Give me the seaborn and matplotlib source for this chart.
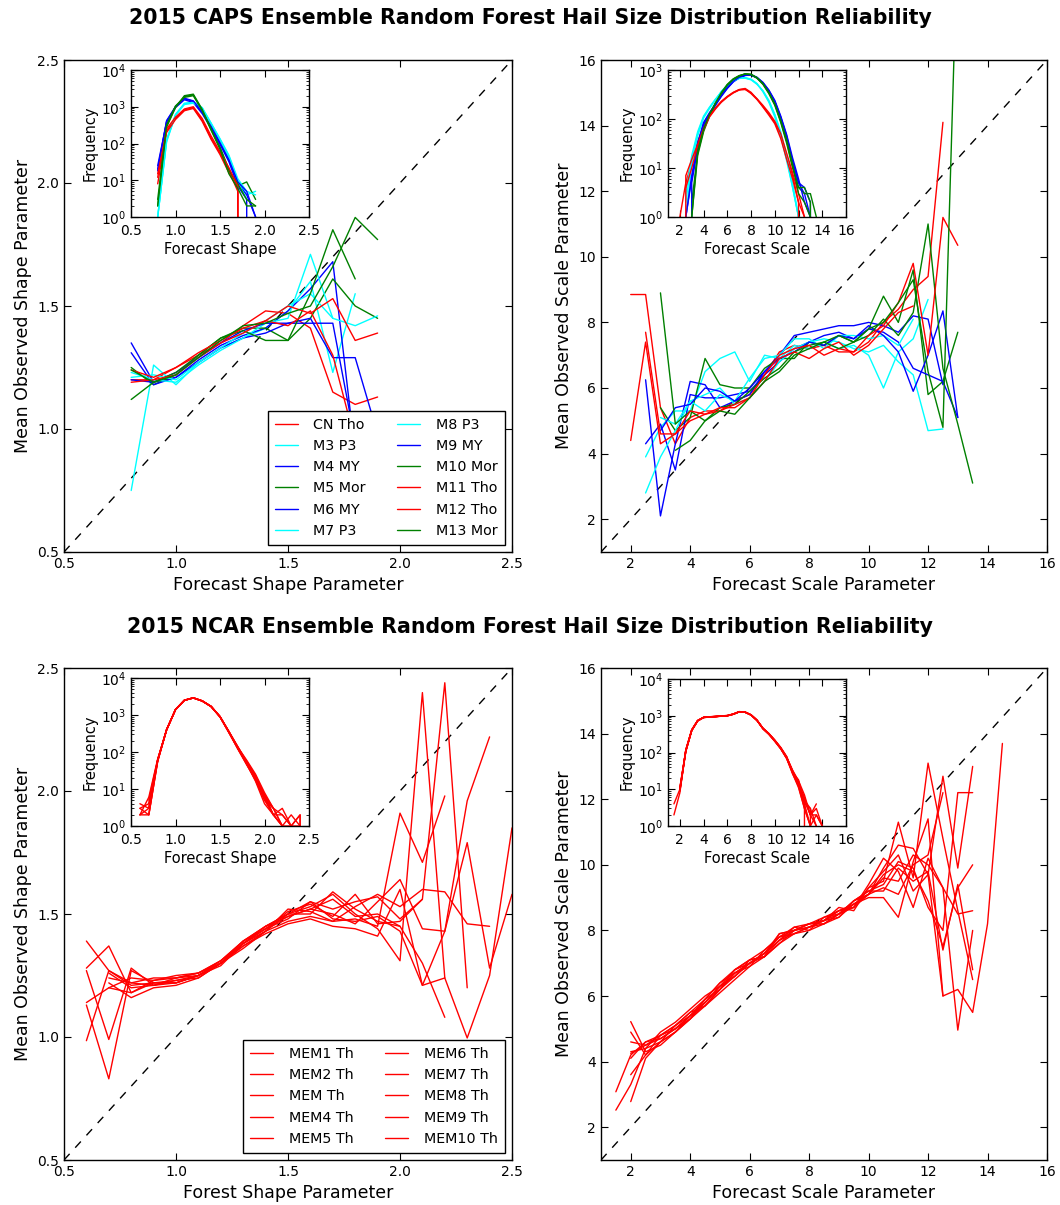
import numpy as np
import pandas as pd
import matplotlib
matplotlib.use("Agg")
import matplotlib.pyplot as plt
from matplotlib.lines import Line2D
import seaborn as sns

nan = np.nan

# ---------------- CAPS ensemble ----------------
CAPS_MEMBERS = ["CN Tho", "M3 P3", "M4 MY", "M5 Mor", "M6 MY", "M7 P3",
                "M8 P3", "M9 MY", "M10 Mor", "M11 Tho", "M12 Tho", "M13 Mor"]
CAPS_COLORS = ["red", "cyan", "blue", "green", "blue", "cyan",
               "cyan", "blue", "green", "red", "red", "green"]

CAPS_SHAPE_X = [0.8, 0.9, 1.0, 1.1, 1.2, 1.3, 1.4, 1.5, 1.6, 1.7, 1.8, 1.9]
caps_shape_obs = {
    "CN Tho":  [1.20, 1.20, 1.25, 1.30, 1.35, 1.42, 1.48, 1.47, 1.41, 1.15, 1.10, 1.13],
    "M3 P3":   [0.75, 1.26, 1.18, 1.27, 1.33, 1.37, 1.41, 1.48, 1.60, 1.23, 1.55, nan],
    "M4 MY":   [1.35, 1.19, 1.21, 1.28, 1.34, 1.38, 1.41, 1.48, 1.57, 1.68, 0.90, nan],
    "M5 Mor":  [1.25, 1.18, 1.22, 1.30, 1.37, 1.41, 1.41, 1.36, 1.45, 1.61, 1.50, 1.45],
    "M6 MY":   [1.31, 1.18, 1.21, 1.27, 1.33, 1.37, 1.39, 1.43, 1.43, 1.43, 0.95, nan],
    "M7 P3":   [1.23, 1.20, 1.19, 1.26, 1.32, 1.37, 1.43, 1.45, 1.71, 1.45, 1.42, 1.46],
    "M8 P3":   [1.21, 1.22, 1.20, 1.27, 1.33, 1.39, 1.44, 1.50, 1.55, 1.45, nan, nan],
    "M9 MY":   [1.20, 1.19, 1.23, 1.29, 1.35, 1.40, 1.43, 1.43, 1.45, 1.29, 1.29, 0.98],
    "M10 Mor": [1.12, 1.19, 1.23, 1.30, 1.37, 1.40, 1.36, 1.36, 1.55, 1.81, 1.61, nan],
    "M11 Tho": [1.24, 1.21, 1.25, 1.31, 1.36, 1.41, 1.44, 1.50, 1.47, 1.53, 1.36, 1.39],
    "M12 Tho": [1.19, 1.20, 1.22, 1.29, 1.35, 1.39, 1.44, 1.42, 1.48, 1.30, 0.95, nan],
    "M13 Mor": [1.24, 1.19, 1.22, 1.29, 1.36, 1.42, 1.43, 1.47, 1.50, 1.66, 1.86, 1.77],
}
caps_shape_freq = {
    "CN Tho":  [8, 220, 480, 820, 950, 430, 140, 55, 18, 5, 0, nan],
    "M3 P3":   [1, 110, 600, 1200, 1350, 950, 360, 130, 45, 10, 4, 5],
    "M4 MY":   [20, 420, 1000, 1650, 1400, 700, 280, 100, 35, 8, 4, 1],
    "M5 Mor":  [2, 300, 1000, 1900, 2100, 800, 240, 80, 20, 7, 9, 3],
    "M6 MY":   [25, 380, 950, 1550, 1300, 650, 260, 95, 32, 7, 3, 0],
    "M7 P3":   [1, 130, 620, 1250, 1300, 900, 340, 125, 42, 9, 3, nan],
    "M8 P3":   [1, 120, 580, 1150, 1250, 920, 350, 135, 48, 11, 5, 4],
    "M9 MY":   [18, 400, 1000, 1700, 1450, 720, 290, 105, 36, 9, 5, 1],
    "M10 Mor": [2, 280, 950, 2000, 2200, 850, 250, 75, 18, 8, 3, 2],
    "M11 Tho": [12, 250, 520, 870, 1000, 480, 160, 60, 22, 7, 0, nan],
    "M12 Tho": [15, 200, 450, 780, 900, 400, 130, 50, 16, 6, 0, nan],
    "M13 Mor": [3, 320, 1050, 1800, 2000, 780, 230, 70, 15, 6, 2, 2],
}

CAPS_SCALE_X = [2.0, 2.5, 3.0, 3.5, 4.0, 4.5, 5.0, 5.5, 6.0, 6.5, 7.0, 7.5,
                8.0, 8.5, 9.0, 9.5, 10.0, 10.5, 11.0, 11.5, 12.0, 12.5, 13.0, 13.5]
caps_scale_obs = {
    "CN Tho":  [8.85, 8.85, 5.4, 4.3, 5.1, 5.3, 5.3, 5.6, 5.8, 6.4, 7.1, 7.3, 7.2, 7.3, 7.1, 7.1, 7.4, 8.0, 8.4, 9.0, 9.4, 14.1, nan, nan],
    "M3 P3":   [nan, 3.9, 4.8, 5.3, 5.3, 6.5, 6.9, 7.1, 6.2, 7.0, 6.9, 7.3, 7.2, 7.4, 7.2, 7.3, 7.0, 6.0, 7.1, 7.5, 8.7, nan, nan, nan],
    "M4 MY":   [nan, 6.25, 2.1, 4.3, 6.2, 6.1, 5.4, 5.6, 5.8, 6.5, 7.0, 7.6, 7.7, 7.8, 7.9, 7.9, 8.0, 7.9, 7.7, 8.2, 8.1, 6.1, nan, nan],
    "M5 Mor":  [nan, nan, 5.4, 4.7, 5.1, 6.9, 6.1, 6.0, 6.0, 6.6, 6.9, 6.9, 7.4, 7.3, 7.6, 7.4, 7.8, 8.8, 8.0, 9.6, 5.8, 6.2, 7.7, nan],
    "M6 MY":   [nan, 4.3, 4.9, 3.5, 5.8, 5.7, 5.7, 5.8, 5.9, 6.4, 6.8, 7.2, 7.4, 7.6, 7.7, 7.5, 7.8, 7.7, 7.4, 6.6, 6.4, 6.2, 5.1, nan],
    "M7 P3":   [nan, 2.8, 3.9, 4.7, 5.6, 5.8, 6.0, 5.5, 5.7, 6.2, 6.8, 7.2, 7.4, 7.5, 7.4, 7.2, 7.1, 7.3, 6.8, 6.4, 4.7, 4.75, nan, nan],
    "M8 P3":   [nan, nan, 5.1, 4.9, 5.6, 5.3, 5.8, 5.6, 6.3, 6.9, 7.0, 7.5, 7.5, 7.2, 7.6, 7.6, 7.5, 7.6, 7.3, 8.1, nan, nan, nan, nan],
    "M9 MY":   [nan, nan, 4.7, 5.4, 5.5, 6.0, 5.9, 5.6, 6.0, 6.5, 6.9, 7.1, 7.4, 7.3, 7.6, 7.5, 7.9, 7.6, 7.1, 5.9, 7.0, 8.35, 5.1, nan],
    "M10 Mor": [nan, nan, 8.9, 4.9, 5.3, 5.0, 5.4, 5.5, 5.9, 6.3, 6.6, 7.1, 7.3, 7.4, 7.6, 7.4, 7.6, 8.1, 7.6, 8.3, 11.0, 6.6, 4.9, 3.1],
    "M11 Tho": [4.4, 7.4, 4.3, 4.6, 5.3, 5.2, 5.3, 5.5, 5.7, 6.4, 7.0, 7.2, 7.3, 7.0, 7.2, 7.1, 7.6, 7.9, 8.6, 9.8, 7.0, 11.2, 10.35, nan],
    "M12 Tho": [nan, 7.7, 4.6, 4.6, 5.0, 5.2, 5.4, 5.4, 5.7, 6.2, 6.9, 7.1, 6.9, 7.2, 7.4, 7.0, 7.3, 7.8, 8.3, 8.5, nan, nan, nan, nan],
    "M13 Mor": [nan, nan, nan, 4.1, 4.4, 5.0, 5.3, 5.2, 5.7, 6.2, 6.5, 7.0, 7.2, 7.4, 7.2, 7.4, 7.8, 8.0, 8.6, 9.3, 6.5, 4.8, 20.0, nan],
}
caps_scale_freq = {
    "CN Tho":  [1, 5, 13, 35, 70, 120, 170, 230, 290, 350, 400, 410, 330, 250, 180, 125, 85, 45, 18, 7, 2, 1, 0, nan],
    "M3 P3":   [nan, 2, 15, 50, 110, 170, 250, 360, 480, 600, 680, 690, 640, 520, 370, 230, 120, 50, 16, 4, 1, 0, nan, nan],
    "M4 MY":   [nan, 1, 6, 30, 80, 130, 200, 300, 430, 580, 700, 780, 790, 700, 550, 380, 230, 110, 45, 14, 5, 3, 1, 0],
    "M5 Mor":  [nan, nan, 2, 20, 60, 120, 200, 340, 500, 650, 760, 820, 810, 690, 520, 340, 200, 90, 35, 11, 4, 3, 3, 1],
    "M6 MY":   [nan, 0, 5, 25, 75, 125, 190, 290, 420, 570, 690, 770, 800, 710, 560, 390, 240, 115, 48, 16, 6, 2, 1, 0],
    "M7 P3":   [nan, 3, 18, 55, 115, 175, 255, 350, 470, 590, 670, 700, 650, 530, 360, 220, 110, 45, 14, 4, 1, 0, nan, nan],
    "M8 P3":   [nan, 1, 12, 45, 105, 165, 245, 370, 490, 610, 690, 680, 630, 510, 380, 240, 125, 55, 18, 5, 1, 0, nan, nan],
    "M9 MY":   [nan, 1, 7, 32, 85, 135, 205, 310, 440, 590, 710, 790, 780, 690, 540, 370, 225, 105, 42, 13, 5, 4, 2, 0],
    "M10 Mor": [nan, nan, 1, 18, 55, 115, 210, 350, 510, 660, 770, 830, 800, 680, 510, 330, 190, 85, 32, 10, 4, 4, 2, 0],
    "M11 Tho": [0, 7, 15, 30, 65, 115, 165, 220, 280, 340, 390, 400, 340, 260, 190, 135, 90, 50, 20, 8, 3, 1, 0, nan],
    "M12 Tho": [nan, 4, 10, 28, 60, 110, 160, 225, 285, 345, 395, 420, 350, 255, 175, 120, 80, 40, 15, 6, 2, 0, nan, nan],
    "M13 Mor": [nan, nan, 1, 22, 62, 125, 215, 330, 490, 640, 750, 840, 820, 700, 530, 350, 205, 95, 38, 12, 3, 2, 1, 0],
}

# ---------------- NCAR ensemble ----------------
NCAR_MEMBERS = ["MEM1 Th", "MEM2 Th", "MEM Th", "MEM4 Th", "MEM5 Th",
                "MEM6 Th", "MEM7 Th", "MEM8 Th", "MEM9 Th", "MEM10 Th"]
NCAR_COLORS = ["red"] * 10

NCAR_SHAPE_X = [0.6, 0.7, 0.8, 0.9, 1.0, 1.1, 1.2, 1.3, 1.4, 1.5,
                1.6, 1.7, 1.8, 1.9, 2.0, 2.1, 2.2, 2.3, 2.4, 2.5]
ncar_shape_obs = {
    "MEM1 Th":  [1.39, 1.27, 1.22, 1.21, 1.22, 1.25, 1.30, 1.39, 1.45, 1.50, 1.53, 1.58, 1.50, 1.44, 1.31, 2.40, 1.24, nan, nan, nan],
    "MEM2 Th":  [1.28, 1.37, 1.18, 1.23, 1.24, 1.26, 1.31, 1.38, 1.44, 1.48, 1.55, 1.52, 1.55, 1.57, 1.48, 1.56, 2.44, 1.20, nan, nan],
    "MEM Th":   [0.985, 1.27, 1.21, 1.22, 1.22, 1.25, 1.30, 1.37, 1.43, 1.52, 1.51, 1.47, 1.48, 1.45, 1.91, 1.71, 1.98, nan, nan, nan],
    "MEM4 Th":  [1.27, 0.99, 1.28, 1.21, 1.24, 1.25, 1.29, 1.38, 1.44, 1.49, 1.52, 1.50, 1.46, 1.55, 1.64, 1.44, 1.43, 1.96, 2.22, nan],
    "MEM5 Th":  [1.14, 1.20, 1.24, 1.23, 1.25, 1.26, 1.31, 1.39, 1.45, 1.50, 1.50, 1.59, 1.52, 1.47, 1.45, 1.30, 1.08, nan, nan, nan],
    "MEM6 Th":  [1.13, 0.83, 1.27, 1.22, 1.23, 1.24, 1.30, 1.38, 1.43, 1.47, 1.49, 1.47, 1.53, 1.58, 1.53, 1.60, 1.59, 1.46, 1.45, nan],
    "MEM7 Th":  [nan, 1.22, 1.16, 1.20, 1.21, 1.24, 1.30, 1.37, 1.42, 1.46, 1.48, 1.45, 1.44, 1.41, 1.60, 1.21, 1.24, 0.996, 1.25, 1.85],
    "MEM8 Th":  [nan, 1.20, 1.18, 1.22, 1.22, 1.25, 1.30, 1.36, 1.43, 1.50, 1.55, 1.48, 1.47, 1.49, 1.43, 1.21, 1.43, 1.79, 1.28, 1.58],
    "MEM9 Th":  [nan, 1.26, 1.20, 1.21, 1.23, 1.25, 1.31, 1.39, 1.44, 1.51, 1.54, 1.49, 1.58, 1.46, 1.47, 1.56, nan, nan, nan, nan],
    "MEM10 Th": [nan, 1.24, 1.22, 1.24, 1.24, 1.26, 1.30, 1.38, 1.45, 1.49, 1.52, 1.56, 1.49, 1.50, 1.45, nan, nan, nan, nan, nan],
}
ncar_shape_freq = {
    "MEM1 Th":  [2, 2, 55, 400, 1400, 2500, 2900, 2400, 1700, 900, 340, 120, 45, 18, 5, 2, 1, 0, nan, nan],
    "MEM2 Th":  [3, 4, 60, 410, 1380, 2480, 2880, 2380, 1680, 880, 330, 125, 55, 22, 7, 3, 2, 1, 2, 0],
    "MEM Th":   [2, 6, 65, 390, 1420, 2520, 2920, 2420, 1720, 910, 360, 140, 52, 19, 6, 2, 3, 1, nan, nan],
    "MEM4 Th":  [3, 2, 58, 405, 1410, 2490, 2890, 2410, 1690, 890, 345, 135, 60, 25, 8, 3, 1, 1, 1, 0],
    "MEM5 Th":  [2, 3, 62, 395, 1390, 2510, 2910, 2390, 1710, 905, 355, 128, 48, 16, 4, 2, 1, 0, nan, nan],
    "MEM6 Th":  [4, 3, 57, 400, 1400, 2500, 2900, 2400, 1700, 900, 350, 132, 50, 20, 6, 2, 2, 1, 2, 0],
    "MEM7 Th":  [nan, 5, 63, 402, 1405, 2505, 2905, 2405, 1705, 895, 348, 126, 46, 17, 5, 3, 1, 0, nan, nan],
    "MEM8 Th":  [nan, 4, 59, 398, 1395, 2495, 2895, 2395, 1695, 905, 352, 138, 56, 23, 7, 2, 1, 2, 1, 0],
    "MEM9 Th":  [nan, 3, 61, 404, 1404, 2504, 2904, 2404, 1704, 898, 358, 130, 53, 21, 6, 3, nan, nan, nan, nan],
    "MEM10 Th": [nan, 2, 60, 396, 1396, 2496, 2896, 2396, 1696, 902, 342, 124, 49, 18, 6, nan, nan, nan, nan, nan],
}

NCAR_SCALE_X = [1.5, 2.0, 2.5, 3.0, 3.5, 4.0, 4.5, 5.0, 5.5, 6.0, 6.5, 7.0, 7.5, 8.0,
                8.5, 9.0, 9.5, 10.0, 10.5, 11.0, 11.5, 12.0, 12.5, 13.0, 13.5, 14.0, 14.5]
ncar_scale_obs = {
    "MEM1 Th":  [3.08, 4.2, 4.6, 4.7, 5.0, 5.4, 5.8, 6.3, 6.8, 7.0, 7.3, 7.9, 8.0, 8.1, 8.3, 8.6, 8.7, 9.3, 9.5, 11.3, 9.6, 13.1, 10.8, 8.6, 6.5, nan, nan],
    "MEM2 Th":  [2.52, 3.3, 4.4, 4.6, 5.1, 5.5, 5.7, 6.2, 6.6, 7.1, 7.2, 7.7, 8.1, 8.2, 8.2, 8.4, 8.9, 9.1, 9.9, 10.6, 10.5, 9.7, 12.7, 9.9, 13.0, nan, nan],
    "MEM Th":   [nan, 5.22, 4.3, 4.5, 4.9, 5.3, 5.9, 6.4, 6.7, 6.9, 7.4, 7.8, 7.9, 8.0, 8.4, 8.5, 8.8, 9.0, 9.0, 8.4, 10.1, 11.4, 6.0, nan, nan, nan, nan],
    "MEM4 Th":  [nan, 4.9, 4.2, 4.8, 5.1, 5.5, 5.9, 6.2, 6.8, 7.1, 7.2, 7.9, 8.0, 8.2, 8.3, 8.6, 8.7, 9.4, 10.2, 9.8, 8.7, 10.2, 9.3, 4.96, 8.0, nan, nan],
    "MEM5 Th":  [nan, 4.25, 4.5, 4.7, 5.0, 5.3, 5.8, 6.3, 6.6, 7.0, 7.3, 7.7, 7.9, 8.1, 8.2, 8.5, 8.9, 9.2, 9.4, 10.1, 9.9, 8.7, 8.0, 12.2, 12.2, nan, nan],
    "MEM6 Th":  [nan, 2.78, 4.1, 4.6, 4.9, 5.4, 5.7, 6.2, 6.7, 7.0, 7.2, 7.6, 8.0, 8.1, 8.3, 8.4, 8.8, 9.1, 9.6, 9.5, 10.3, 10.0, 9.3, 8.5, 8.6, nan, nan],
    "MEM7 Th":  [nan, 4.1, 4.6, 4.8, 5.1, 5.4, 5.9, 6.4, 6.8, 7.1, 7.4, 7.8, 8.0, 8.2, 8.3, 8.7, 8.6, 9.3, 9.8, 10.3, 9.2, 9.7, 6.0, 6.2, 5.5, 8.2, 13.7],
    "MEM8 Th":  [nan, 4.3, 4.4, 4.9, 5.2, 5.6, 6.0, 6.3, 6.6, 7.0, 7.3, 7.8, 8.1, 8.0, 8.2, 8.5, 8.7, 9.1, 9.3, 9.1, 10.0, 10.3, 12.2, nan, nan, nan, nan],
    "MEM9 Th":  [nan, 3.6, 4.2, 4.6, 4.9, 5.3, 5.7, 6.1, 6.5, 6.9, 7.2, 7.6, 7.9, 8.1, 8.3, 8.5, 8.9, 9.2, 9.2, 9.9, 9.5, 9.8, 7.4, 9.4, 6.8, nan, nan],
    "MEM10 Th": [nan, 4.6, 4.5, 4.8, 5.0, 5.4, 5.8, 6.2, 6.7, 7.0, 7.3, 7.7, 8.0, 8.2, 8.4, 8.6, 8.8, 9.1, 9.7, 10.0, 9.8, 8.9, 7.5, 9.3, 10.0, nan, nan],
}
ncar_scale_freq = {
    "MEM1 Th":  [4, 10, 110, 400, 730, 900, 930, 950, 980, 1000, 1100, 1280, 1250, 1050, 750, 450, 320, 210, 130, 73, 30, 15, 5, 2, 2, 1, 0],
    "MEM2 Th":  [2, 8, 120, 420, 750, 910, 940, 960, 990, 1020, 1120, 1300, 1260, 1040, 740, 440, 310, 200, 125, 70, 28, 18, 4, 3, 1, 0, nan],
    "MEM Th":   [nan, 11, 115, 410, 740, 890, 920, 940, 970, 1010, 1110, 1270, 1240, 1060, 760, 460, 330, 215, 135, 75, 32, 14, 6, 2, 4, nan, nan],
    "MEM4 Th":  [nan, 9, 105, 395, 720, 895, 925, 945, 985, 1005, 1105, 1285, 1255, 1045, 745, 445, 315, 205, 128, 68, 26, 12, 3, 1, 2, 1, 0],
    "MEM5 Th":  [nan, 10, 112, 405, 735, 905, 935, 955, 975, 995, 1095, 1275, 1245, 1055, 755, 455, 325, 212, 132, 76, 31, 16, 5, 3, 0, nan, nan],
    "MEM6 Th":  [nan, 10, 108, 398, 728, 898, 928, 948, 978, 1008, 1108, 1282, 1248, 1048, 748, 448, 318, 208, 129, 71, 29, 13, 4, 0, nan, nan, nan],
    "MEM7 Th":  [nan, 9, 118, 402, 732, 902, 932, 952, 982, 1002, 1102, 1278, 1252, 1052, 752, 452, 322, 212, 131, 74, 33, 17, 7, 2, 1, 0, nan],
    "MEM8 Th":  [nan, 11, 111, 408, 738, 908, 938, 958, 988, 1012, 1112, 1288, 1258, 1058, 758, 458, 328, 218, 138, 78, 27, 11, 3, 1, 0, nan, nan],
    "MEM9 Th":  [nan, 10, 113, 396, 726, 896, 926, 946, 976, 996, 1096, 1276, 1246, 1046, 746, 446, 316, 206, 127, 69, 30, 14, 5, 2, 3, 1, 0],
    "MEM10 Th": [nan, 9, 109, 404, 734, 904, 934, 954, 984, 1004, 1104, 1284, 1254, 1054, 754, 454, 324, 214, 133, 72, 29, 15, 4, 1, 0, nan, nan],
}

DIAG_SHAPE = [0.5, 2.5]
DIAG_SCALE = [1.0, 16.0]

# ---------------- style ----------------
sns.set_style("ticks")
plt.rcParams.update({
    "font.family": ["DejaVu Sans"],
    "text.color": "black", "axes.labelcolor": "black",
    "xtick.color": "black", "ytick.color": "black",
    "axes.edgecolor": "black", "axes.linewidth": 1.0,
    "xtick.direction": "in", "ytick.direction": "in",
    "xtick.top": True, "ytick.right": True,
    "xtick.major.size": 5, "ytick.major.size": 5,
    "xtick.minor.size": 2.5, "ytick.minor.size": 2.5,
    "xtick.major.width": 0.8, "ytick.major.width": 0.8,
    "xtick.minor.width": 0.6, "ytick.minor.width": 0.6,
    "xtick.labelsize": 10, "ytick.labelsize": 10,
    "axes.labelsize": 12.5,
    "axes.spines.top": True, "axes.spines.right": True,
})

W, H = 1060, 1205
fig = plt.figure(figsize=(W / 100, H / 100), dpi=100)


def frac(x0, y0, x1, y1):
    return [x0 / W, 1 - y1 / H, (x1 - x0) / W, (y1 - y0) / H]


def long_df(xs, series, names):
    rows = []
    for n in names:
        for xv, yv in zip(xs, series[n]):
            if not np.isnan(yv):
                rows.append((n, xv, yv))
    return pd.DataFrame(rows, columns=["member", "x", "y"])


def draw(ax, xs, series, names, colors, lw=1.0):
    df = long_df(xs, series, names)
    sns.lineplot(data=df, x="x", y="y", hue="member", hue_order=names,
                 palette=dict(zip(names, colors)), estimator=None, sort=False,
                 linewidth=lw, ax=ax, legend=False)


def main_panel(rect, xs, series, names, colors, diag, lim, ticks, xlabel, ylabel):
    ax = fig.add_axes(rect)
    ax.plot(diag, diag, color="black", lw=1.0, linestyle=(0, (6, 6)))
    draw(ax, xs, series, names, colors)
    ax.set_xlim(*lim)
    ax.set_ylim(*lim)
    ax.set_xticks(ticks)
    ax.set_yticks(ticks)
    ax.set_xlabel(xlabel)
    ax.set_ylabel(ylabel)
    return ax


def inset_panel(rect, xs, series, names, colors, xlim, xticks, ylim, xlabel):
    ax = fig.add_axes(rect)
    ax.set_facecolor("white")
    draw(ax, xs, series, names, colors)
    ax.set_yscale("log")
    ax.set_xlim(*xlim)
    ax.set_ylim(*ylim)
    ax.set_xticks(xticks)
    ax.set_xlabel(xlabel, fontsize=10.5, labelpad=3)
    ax.set_ylabel("Frequency", fontsize=10.5, labelpad=2)
    ax.tick_params(labelsize=10, which="both", direction="in", top=True, right=True)
    ax.tick_params(axis="x", pad=5)
    return ax


def add_legend(ax, names, colors):
    handles = [Line2D([], [], color=c, lw=1.0) for c in colors]
    leg = ax.legend(handles, names, ncol=2, loc="lower right", fontsize=10.3,
                    frameon=True, fancybox=False, framealpha=1.0, edgecolor="black",
                    handlelength=1.6, handletextpad=1.1, columnspacing=2.2,
                    labelspacing=0.5, borderpad=0.5, borderaxespad=0.5)
    leg.get_frame().set_linewidth(1.0)


shape_ticks = [0.5, 1.0, 1.5, 2.0, 2.5]
scale_ticks = [2, 4, 6, 8, 10, 12, 14, 16]

# top-left
ax1 = main_panel(frac(64, 60, 512, 552), CAPS_SHAPE_X, caps_shape_obs, CAPS_MEMBERS, CAPS_COLORS,
                 DIAG_SHAPE, (0.5, 2.5), shape_ticks,
                 "Forecast Shape Parameter", "Mean Observed Shape Parameter")
add_legend(ax1, CAPS_MEMBERS, CAPS_COLORS)
inset_panel(frac(131, 70, 309, 217), CAPS_SHAPE_X, caps_shape_freq, CAPS_MEMBERS, CAPS_COLORS,
            (0.5, 2.5), shape_ticks, (1, 1e4), "Forecast Shape")

# top-right
ax2 = main_panel(frac(601, 60, 1047, 552), CAPS_SCALE_X, caps_scale_obs, CAPS_MEMBERS, CAPS_COLORS,
                 DIAG_SCALE, (1, 16), scale_ticks,
                 "Forecast Scale Parameter", "Mean Observed Scale Parameter")
inset_panel(frac(668, 70, 846, 217), CAPS_SCALE_X, caps_scale_freq, CAPS_MEMBERS, CAPS_COLORS,
            (1, 16), scale_ticks, (1, 1e3), "Forecast Scale")

# bottom-left
ax3 = main_panel(frac(64, 668, 512, 1160), NCAR_SHAPE_X, ncar_shape_obs, NCAR_MEMBERS, NCAR_COLORS,
                 DIAG_SHAPE, (0.5, 2.5), shape_ticks,
                 "Forest Shape Parameter", "Mean Observed Shape Parameter")
add_legend(ax3, NCAR_MEMBERS, NCAR_COLORS)
inset_panel(frac(131, 678, 309, 826), NCAR_SHAPE_X, ncar_shape_freq, NCAR_MEMBERS, NCAR_COLORS,
            (0.5, 2.5), shape_ticks, (1, 1e4), "Forecast Shape")

# bottom-right
ax4 = main_panel(frac(601, 668, 1047, 1160), NCAR_SCALE_X, ncar_scale_obs, NCAR_MEMBERS, NCAR_COLORS,
                 DIAG_SCALE, (1, 16), scale_ticks,
                 "Forecast Scale Parameter", "Mean Observed Scale Parameter")
inset_panel(frac(668, 679, 846, 826), NCAR_SCALE_X, ncar_scale_freq, NCAR_MEMBERS, NCAR_COLORS,
            (1, 16), scale_ticks, (1, 1e4), "Forecast Scale")

fig.text(0.5, 1 - 18 / H, "2015 CAPS Ensemble Random Forest Hail Size Distribution Reliability",
         ha="center", va="center", fontsize=14.8, fontweight="bold")
fig.text(0.5, 1 - 627 / H, "2015 NCAR Ensemble Random Forest Hail Size Distribution Reliability",
         ha="center", va="center", fontsize=14.8, fontweight="bold")

fig.savefig("out.png", dpi=100, facecolor="white")
